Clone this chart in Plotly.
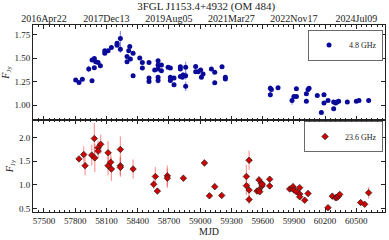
import plotly.graph_objects as go
from plotly.subplots import make_subplots

# 4.8 GHz
mjd_48 = [57805, 57837, 57869, 57930, 57962, 57962, 57984, 57984, 57997, 58020,
          58042, 58084, 58084, 58116, 58148, 58202, 58202, 58234, 58234, 58298,
          58298, 58314, 58324, 58330, 58356, 58356, 58420, 58445, 58445, 58509,
          58509, 58509, 58564, 58596, 58596, 58596, 58596, 58596, 58628, 58628,
          58692, 58714, 58714, 58714, 58749, 58749, 58810, 58810, 58810, 58829,
          58836, 58861, 58861, 58861, 58957, 58957, 58980, 59005, 59012, 59028,
          59108, 59140, 59140, 59210, 59242, 59242,
          59674, 59674, 59684, 59748, 59882, 59901, 59924, 59924, 60020, 60020,
          60036, 60046, 60125, 60164, 60189, 60189, 60228, 60282, 60282, 60301,
          60314, 60330, 60413, 60500, 60525, 60618]
flux_48 = [1.269, 1.241, 1.276, 1.384, 1.259, 1.479, 1.398, 1.496, 1.461, 1.454,
           1.419, 1.552, 1.577, 1.577, 1.611, 1.636, 1.657, 1.706, 1.594, 1.461,
           1.517, 1.577, 1.622, 1.489, 1.552, 1.314, 1.500, 1.454, 1.395, 1.454,
           1.290, 1.252, 1.374, 1.472, 1.426, 1.384, 1.297, 1.262, 1.426, 1.367,
           1.402, 1.395, 1.297, 1.262, 1.290, 1.217, 1.409, 1.384, 1.304, 1.297,
           1.321, 1.402, 1.314, 1.203, 1.412, 1.356, 1.356, 1.374, 1.297, 1.332,
           1.384, 1.349, 1.238, 1.409, 1.297, 1.280,
           1.182, 1.112, 1.168, 1.185, 1.052, 1.094, 1.094, 1.175, 1.122, 1.042,
           1.168, 1.182, 1.105, 0.923, 1.112, 1.024, 1.052, 1.035, 0.965, 1.024,
           1.035, 1.042, 1.035, 1.042, 1.052, 1.052]
err_48 = [0.012, 0.012, 0.012, 0.035, 0.015, 0.02, 0.015, 0.02, 0.015, 0.015,
          0.015, 0.02, 0.015, 0.015, 0.015, 0.02, 0.015, 0.08, 0.04, 0.02,
          0.015, 0.015, 0.02, 0.015, 0.015, 0.015, 0.015, 0.015, 0.015, 0.015,
          0.02, 0.02, 0.015, 0.02, 0.02, 0.02, 0.02, 0.03, 0.015, 0.015,
          0.015, 0.015, 0.02, 0.02, 0.015, 0.015, 0.015, 0.02, 0.02, 0.015,
          0.03, 0.06, 0.04, 0.05, 0.015, 0.015, 0.015, 0.015, 0.02, 0.015,
          0.015, 0.015, 0.015, 0.015, 0.02, 0.015,
          0.03, 0.03, 0.015, 0.015, 0.045, 0.015, 0.015, 0.015, 0.015, 0.015,
          0.015, 0.015, 0.015, 0.02, 0.015, 0.02, 0.015, 0.015, 0.02, 0.015,
          0.015, 0.015, 0.015, 0.015, 0.015, 0.015]

# 23.6 GHz
mjd_236 = [57837, 57882, 57895, 57959, 57984, 57988, 58020, 58020, 58045, 58116,
           58116, 58141, 58148, 58234, 58234, 58234, 58356, 58554, 58570, 58589,
           58685, 58685, 58839, 59041, 59089, 59140, 59207, 59444, 59444, 59470,
           59470, 59470, 59546, 59565, 59565, 59572, 59588, 59594, 59597, 59668,
           59668, 59860, 59882, 59892, 59901, 59924, 59956, 59956, 59956, 60004,
           60036, 60228, 60269, 60301, 60314, 60327, 60340, 60541, 60580, 60618]
flux_236 = [1.55, 1.643, 1.407, 1.629, 1.979, 1.571, 1.786, 1.714, 1.857, 1.679,
            1.407, 1.479, 1.336, 1.75, 1.407, 1.371, 1.336, 1.014, 1.179, 0.871,
            1.193, 1.143, 1.143, 1.464, 0.771, 0.964, 0.779, 1.179, 0.986, 1.521,
            0.893, 0.693, 0.871, 1.107, 0.893, 0.857, 1.036, 0.979, 1.014, 1.121,
            0.979, 0.914, 0.929, 0.964, 0.893, 0.857, 0.943, 0.807, 0.75, 0.679,
            0.821, 0.521, 0.764, 0.729, 0.736, 0.764, 0.8, 0.629, 0.593, 0.836]
err_236 = [0.04, 0.17, 0.2, 0.22, 0.33, 0.3, 0.15, 0.15, 0.2, 0.25,
           0.2, 0.2, 0.25, 0.27, 0.2, 0.2, 0.2, 0.1, 0.2, 0.04,
           0.22, 0.2, 0.07, 0.08, 0.05, 0.07, 0.05, 0.25, 0.2, 0.2,
           0.15, 0.1, 0.06, 0.08, 0.06, 0.05, 0.05, 0.05, 0.05, 0.06,
           0.05, 0.04, 0.06, 0.08, 0.05, 0.05, 0.05, 0.05, 0.05, 0.04,
           0.07, 0.03, 0.06, 0.04, 0.04, 0.04, 0.04, 0.05, 0.03, 0.12]

bottom_ticks = [57500, 57800, 58100, 58400, 58700, 59000, 59300, 59600, 59900, 60200, 60500]
top_ticks = [57500, 58100, 58700, 59300, 59900, 60500]
top_labels = ["2016Apr22", "2017Dec13", "2019Aug05", "2021Mar27", "2022Nov17", "2024Jul09"]

FONT = "Liberation Serif"
INK = "#222"
XR = [57395, 60775]

fig = make_subplots(rows=2, cols=1, vertical_spacing=0)

fig.add_trace(go.Scatter(
    x=mjd_48, y=flux_48, mode="markers", name="4.8 GHz",
    marker=dict(symbol="circle", size=5, color="#0a0a9a"),
    error_y=dict(type="data", array=err_48, color="rgba(70,70,255,0.6)", thickness=1.2, width=0),
    legend="legend"), row=1, col=1)

fig.add_trace(go.Scatter(
    x=mjd_236, y=flux_236, mode="markers", name="23.6 GHz",
    marker=dict(symbol="diamond", size=5, color="#d00000", line=dict(color="#202020", width=0.7)),
    error_y=dict(type="data", array=err_236, color="rgba(255,70,70,0.55)", thickness=1.2, width=0),
    legend="legend2"), row=2, col=1)

# carrier trace so the top calendar-date axis is drawn (no visible marks)
fig.add_trace(go.Scatter(
    x=mjd_48, y=flux_48, mode="markers", marker=dict(opacity=0),
    xaxis="x3", yaxis="y", showlegend=False, hoverinfo="skip"))

axis_common = dict(showline=True, linecolor=INK, linewidth=1, mirror="ticks",
                   ticks="inside", ticklen=4, tickcolor=INK, showgrid=False,
                   zeroline=False, automargin=False)
minor_x = dict(ticks="inside", ticklen=2, dtick=50, tick0=57500, tickcolor=INK)

fig.update_xaxes(range=XR, tickvals=bottom_ticks, showticklabels=False, minor=minor_x,
                 row=1, col=1, **axis_common)
fig.update_xaxes(range=XR, tickvals=bottom_ticks, tickformat="d",
                 tickfont=dict(family=FONT, size=9, color=INK), minor=minor_x,
                 tickangle=0,
                 title=dict(text="MJD", font=dict(family=FONT, size=10, color=INK), standoff=2),
                 row=2, col=1, **axis_common)
fig.update_yaxes(range=[0.845, 1.85], tickvals=[1.0, 1.25, 1.5, 1.75], tickformat=".2f",
                 tickfont=dict(family=FONT, size=9, color=INK),
                 title=dict(text="<i>F</i><sub>Jy</sub>", font=dict(family=FONT, size=10, color=INK), standoff=3),
                 row=1, col=1, **axis_common)
fig.update_yaxes(range=[0.43, 2.37], tickvals=[0.5, 1.0, 1.5, 2.0], tickformat=".1f",
                 tickfont=dict(family=FONT, size=9, color=INK),
                 title=dict(text="<i>F</i><sub>Jy</sub>", font=dict(family=FONT, size=10, color=INK), standoff=3),
                 row=2, col=1, **axis_common)
fig.update_yaxes(domain=[0.492, 1.0], row=1, col=1)
fig.update_yaxes(domain=[0.0, 0.492], row=2, col=1)

leg_common = dict(xanchor="right", yanchor="top", x=0.995, bgcolor="white",
                  bordercolor="#444", borderwidth=0.8,
                  font=dict(family=FONT, size=8, color=INK),
                  itemwidth=30, tracegroupgap=0)

fig.update_layout(
    width=389, height=240,
    margin=dict(l=33, r=4, t=25, b=28),
    paper_bgcolor="white", plot_bgcolor="white",
    title=dict(text="3FGL J1153.4+4932 (OM 484)", x=0.53, xanchor="center",
               y=0.99, yanchor="top", font=dict(family=FONT, size=11, color=INK)),
    xaxis3=dict(range=XR, overlaying="x", anchor="y", side="top",
                tickmode="array", tickvals=top_ticks, ticktext=top_labels,
                ticks="inside", ticklen=4, tickcolor=INK, tickangle=0,
                showline=False, showgrid=False, zeroline=False, automargin=False,
                tickfont=dict(family=FONT, size=10, color=INK)),
    legend=dict(y=0.975, **leg_common),
    legend2=dict(y=0.485, **leg_common),
    showlegend=True,
)

fig.write_html("out.html", config={"displayModeBar": False},
               post_script="document.body.style.margin='0';")
